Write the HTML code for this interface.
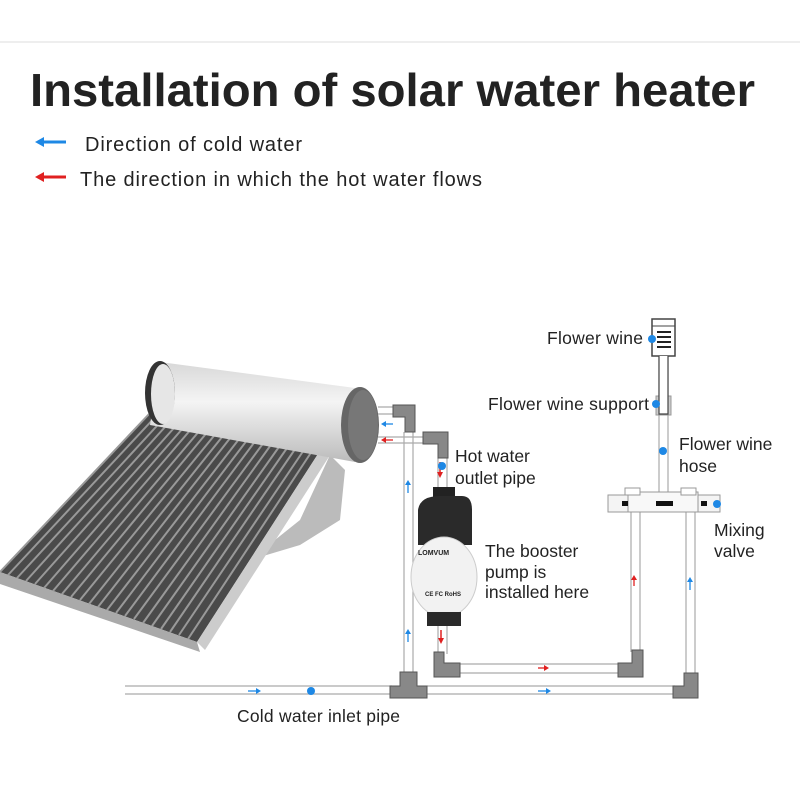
<!DOCTYPE html>
<html><head><meta charset="utf-8"><style>
body{margin:0;background:#fff;width:800px;height:800px;overflow:hidden}
svg{display:block}
text{font-family:"Liberation Sans",sans-serif;fill:#222}
</style></head><body>
<svg width="800" height="800" viewBox="0 0 800 800">
<defs>
<linearGradient id="tank" x1="0" y1="0" x2="0" y2="1"><stop offset="0" stop-color="#d8d8d8"/><stop offset="0.4" stop-color="#f4f4f4"/><stop offset="1" stop-color="#bbb"/></linearGradient>
</defs>
<line x1="0" y1="42" x2="800" y2="42" stroke="#ddd"/>
<text x="30" y="106" font-size="46" font-weight="bold" fill="#111" textLength="725" lengthAdjust="spacingAndGlyphs">Installation of solar water heater</text>
<path d="M38,142 h28" stroke="#1e88e5" stroke-width="3"/><path d="M35,142 l9,-5 v10z" fill="#1e88e5"/>
<text x="85" y="151" font-size="20" textLength="217">Direction of cold water</text>
<path d="M38,177 h28" stroke="#e02020" stroke-width="3"/><path d="M35,177 l9,-5 v10z" fill="#e02020"/>
<text x="80" y="186" font-size="20" textLength="402">The direction in which the hot water flows</text>

<!-- solar heater -->
<path d="M330,455 L345,470 L340,520 L300,545 L250,560 L300,520z" fill="#bbb"/>
<path d="M0,572 L150,413 L325,443 L197,642 Z" fill="#4a4a4a"/>
<path d="M197,642 L325,443 L332,452 L205,650 Z" fill="#ccc"/>
<path d="M0,572 L197,642 L200,652 L0,584 Z" fill="#aaa"/>
<g stroke="#999" stroke-width="2">
<line x1="150" y1="413" x2="0" y2="572"/><line x1="158" y1="414" x2="8" y2="575"/><line x1="166" y1="416" x2="17" y2="578"/><line x1="174" y1="417" x2="26" y2="581"/><line x1="182" y1="419" x2="35" y2="584"/><line x1="190" y1="420" x2="44" y2="588"/><line x1="198" y1="421" x2="53" y2="591"/><line x1="206" y1="423" x2="62" y2="594"/><line x1="214" y1="424" x2="71" y2="597"/><line x1="222" y1="426" x2="80" y2="600"/><line x1="230" y1="427" x2="89" y2="604"/><line x1="238" y1="428" x2="98" y2="607"/><line x1="246" y1="430" x2="107" y2="610"/><line x1="254" y1="431" x2="116" y2="613"/><line x1="262" y1="432" x2="125" y2="616"/><line x1="270" y1="434" x2="134" y2="619"/><line x1="278" y1="435" x2="143" y2="623"/><line x1="286" y1="437" x2="152" y2="626"/><line x1="294" y1="438" x2="161" y2="629"/><line x1="302" y1="439" x2="170" y2="632"/><line x1="310" y1="441" x2="179" y2="635"/><line x1="318" y1="442" x2="188" y2="639"/>
</g>
<path d="M160,362 L355,388 L355,462 L150,425 Z" fill="url(#tank)"/>
<ellipse cx="160" cy="393" rx="15" ry="32" fill="#333"/>
<ellipse cx="163" cy="394" rx="12" ry="30" fill="#e6e6e6"/>
<ellipse cx="360" cy="425" rx="19" ry="38" fill="#666"/>
<ellipse cx="363" cy="425" rx="15" ry="35" fill="#777"/>

<!-- pipes -->
<g fill="none" stroke="#aaa" stroke-width="1.2">
<path d="M378,407 H395 M378,414 H395"/>
<path d="M378,437 H425 M378,443 H425"/>
<path d="M404,432 V675 M413,432 V675"/>
<path d="M438,458 V492 M447,458 V492"/>
<path d="M438,622 V654 M447,622 V654"/>
<path d="M460,664 H620 M460,673 H620"/>
<path d="M631,512 V652 M640,512 V652"/>
<path d="M686,512 V675 M695,512 V675"/>
<path d="M125,686 H392 M125,694 H392"/>
<path d="M427,686 H675 M427,694 H675"/>
<path d="M659,356 V495 M668,356 V495"/>
</g>
<g fill="#888" stroke="#555" stroke-width="1">
<path d="M393,405 h22 v27 h-10 v-15 h-12z"/>
<path d="M423,432 h25 v26 h-10 v-14 h-15z"/>
<path d="M434,652 h10 v11 h16 v14 h-26z"/>
<path d="M632,650 h11 v27 h-25 v-14 h14z"/>
<path d="M684,673 h14 v25 h-25 v-12 h11z"/>
<path d="M400,672 h17 v14 h10 v12 h-37 v-12 h10z"/>
<rect x="656" y="396" width="15" height="19" fill="#ccc" stroke="#999"/>
</g>
<!-- mixing valve -->
<rect x="608" y="495" width="112" height="17" fill="#f4f4f4" stroke="#999"/>
<rect x="628" y="492" width="70" height="20" fill="#f8f8f8" stroke="#999"/>
<rect x="625" y="488" width="15" height="7" fill="#fff" stroke="#999"/>
<rect x="681" y="488" width="15" height="7" fill="#fff" stroke="#999"/>
<rect x="656" y="501" width="17" height="5" fill="#111"/>
<rect x="622" y="501" width="6" height="5" fill="#111"/>
<rect x="701" y="501" width="6" height="5" fill="#111"/>
<!-- shower -->
<rect x="652" y="319" width="23" height="37" fill="#fff" stroke="#444" stroke-width="1.5"/>
<line x1="652" y1="326" x2="675" y2="326" stroke="#444"/>
<g fill="#222"><rect x="657" y="331" width="14" height="2"/><rect x="657" y="336" width="14" height="2"/><rect x="657" y="341" width="14" height="2"/><rect x="657" y="346" width="14" height="2"/></g>
<path d="M659,356 V414 h9 V356" fill="#fff" stroke="#444" stroke-width="1.2"/>
<!-- pump -->
<rect x="433" y="487" width="22" height="12" fill="#222"/>
<path d="M418,510 Q420,496 440,496 H462 Q472,496 472,510 V545 H418z" fill="#2a2a2a"/>
<ellipse cx="444" cy="577" rx="33" ry="40" fill="#f2f2f2" stroke="#ccc"/>
<text x="418" y="555" font-size="7" font-weight="bold" fill="#e05a00">LOMVUM</text>
<text x="425" y="596" font-size="6" font-weight="bold">CE FC RoHS</text>
<rect x="427" y="612" width="34" height="14" fill="#2a2a2a"/>
<path d="M440,462 V474" stroke="#e02020" stroke-width="1.5"/><path d="M437,472 l3,6 l3,-6z" fill="#e02020"/>
<path d="M441,630 V640" stroke="#e02020" stroke-width="1.5"/><path d="M438,638 l3,6 l3,-6z" fill="#e02020"/>
<!-- arrows -->
<g stroke="#1e88e5" stroke-width="1.3">
<path d="M408,493 V483"/><path d="M408,642 V632"/><path d="M690,590 V580"/>
<path d="M393,424 H384"/><path d="M248,691 H258"/><path d="M538,691 H548"/>
</g>
<g fill="#1e88e5"><path d="M405,485 l3,-5 l3,5z"/><path d="M405,634 l3,-5 l3,5z"/><path d="M687,582 l3,-5 l3,5z"/><path d="M386,421 l-5,3 l5,3z"/><path d="M256,688 l5,3 l-5,3z"/><path d="M546,688 l5,3 l-5,3z"/></g>
<g stroke="#e02020" stroke-width="1.3"><path d="M393,440 H384"/><path d="M538,668 H546"/><path d="M634,586 V578"/></g>
<g fill="#e02020"><path d="M386,437 l-5,3 l5,3z"/><path d="M544,665 l5,3 l-5,3z"/><path d="M631,580 l3,-5 l3,5z"/></g>
<g fill="#1e88e5"><circle cx="311" cy="691" r="4"/><circle cx="442" cy="466" r="4"/><circle cx="663" cy="451" r="4"/><circle cx="717" cy="504" r="4"/><circle cx="652" cy="339" r="4"/><circle cx="656" cy="404" r="4"/></g>

<g font-size="17.5">
<text x="547" y="344" textLength="96">Flower wine</text>
<text x="488" y="410" textLength="161">Flower wine support</text>
<text x="679" y="450">Flower wine</text><text x="679" y="472">hose</text>
<text x="455" y="462">Hot water</text><text x="455" y="484">outlet pipe</text>
<text x="714" y="536">Mixing</text><text x="714" y="557">valve</text>
<text x="485" y="557">The booster</text><text x="485" y="578">pump is</text><text x="485" y="598">installed here</text>
<text x="237" y="722" textLength="163">Cold water inlet pipe</text>
</g>
</svg>
</body></html>
